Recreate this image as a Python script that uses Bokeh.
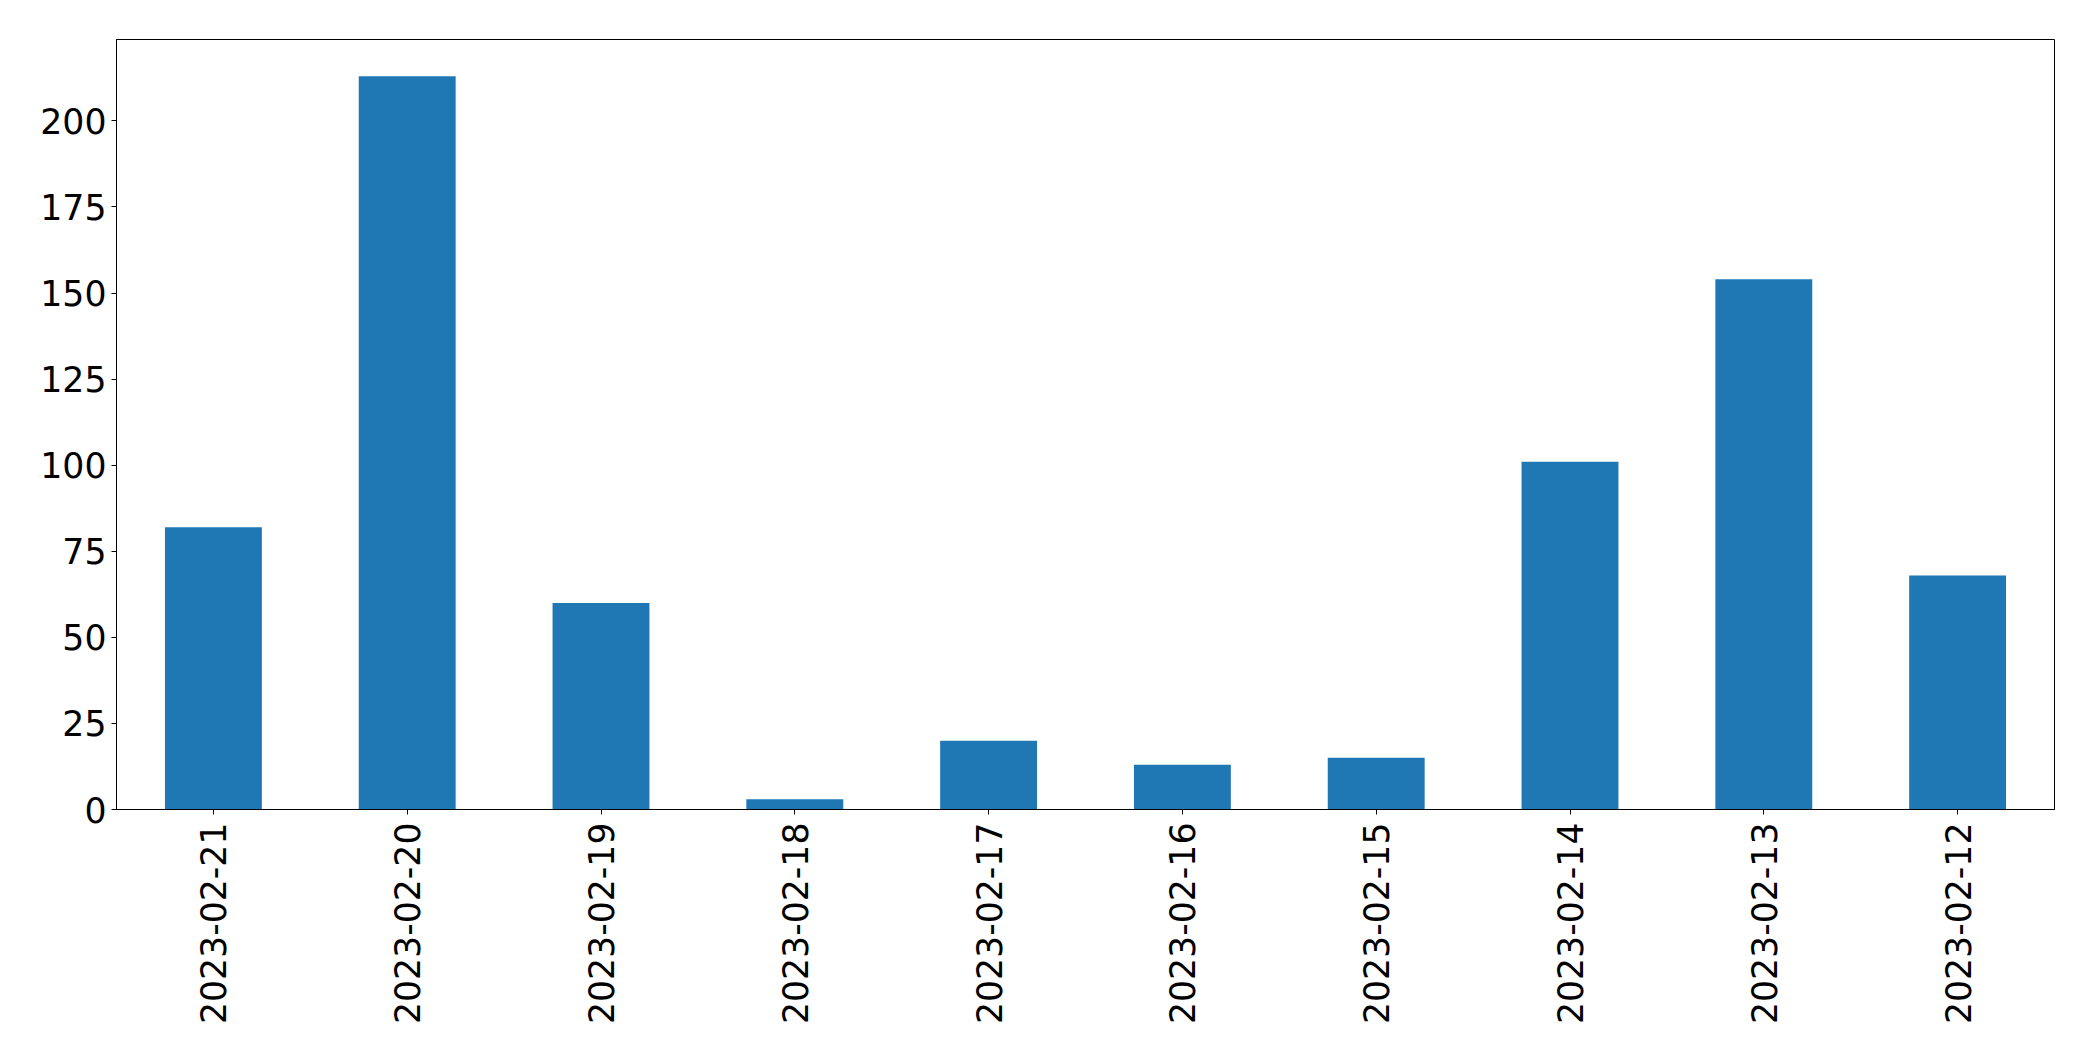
from bokeh.plotting import figure
from bokeh.models import Range1d, FactorRange, SingleIntervalTicker, ColumnDataSource
from bokeh.embed import file_html
from bokeh.resources import INLINE
import math

dates = ["2023-02-21", "2023-02-20", "2023-02-19", "2023-02-18", "2023-02-17",
         "2023-02-16", "2023-02-15", "2023-02-14", "2023-02-13", "2023-02-12"]
counts = [82, 213, 60, 3, 20, 13, 15, 101, 154, 68]

src = ColumnDataSource(dict(x=dates, top=counts))

p = figure(width=2077, height=1045, output_backend="svg", toolbar_location=None,
           x_range=FactorRange(factors=dates), y_range=Range1d(0, max(counts) * 1.05),
           min_border_left=116, min_border_right=23, min_border_top=39, min_border_bottom=236)

p.vbar(x="x", top="top", width=0.5, bottom=0, source=src, color="#1f77b4", line_width=0)

p.xgrid.visible = False
p.ygrid.visible = False
p.outline_line_color = "black"
p.outline_line_alpha = 1.0
p.outline_line_width = 1

font = "DejaVu Sans"
for ax in (p.xaxis[0], p.yaxis[0]):
    ax.axis_line_color = "black"
    ax.major_tick_line_color = "black"
    ax.major_tick_in = 0
    ax.major_tick_out = 5
    ax.minor_tick_line_color = None
    ax.major_label_text_font = font
    ax.major_label_text_font_size = "34.7px"
    ax.major_label_text_color = "black"
    ax.major_label_standoff = 5

p.xaxis[0].major_label_standoff = 8
p.yaxis[0].ticker = SingleIntervalTicker(interval=25)
p.xaxis[0].major_label_orientation = math.pi / 2

open("out.html", "w").write(file_html(p, INLINE))
